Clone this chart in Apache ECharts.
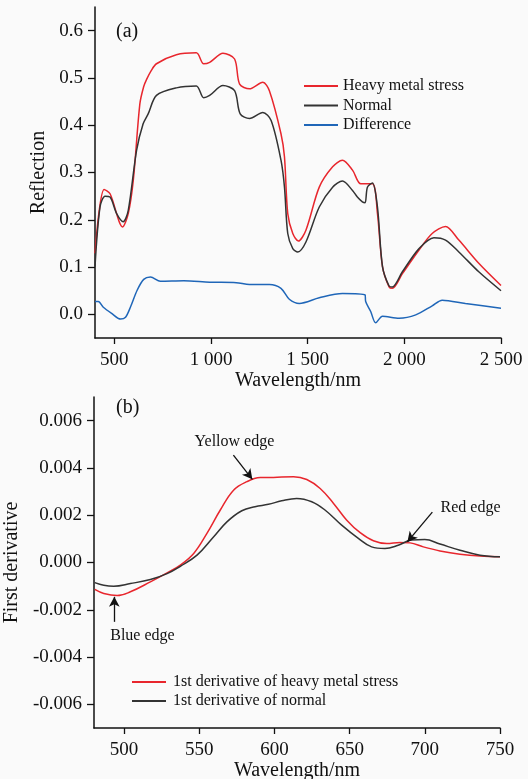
<!DOCTYPE html>
<html>
<head>
<meta charset="utf-8">
<script src="https://cdn.jsdelivr.net/npm/echarts@6/dist/echarts.min.js"></script>
<style>
    html, body { margin: 0; padding: 0; background: #fafafa; }
    #chart { width: 528px; height: 779px; }
</style>
</head>
<body>
<div id="chart"></div>
<script>
// (a) reflectance spectra
var wlHeavy   = [400, 447, 478, 543, 572, 598, 632, 652, 667, 690, 718, 821, 924, 962, 993, 1062, 1122, 1148, 1199, 1268, 1302, 1362, 1380, 1397, 1423, 1452, 1491, 1560, 1629, 1680, 1732, 1775, 1835, 1861, 1887, 1921, 1938, 1990, 2076, 2144, 2213, 2282, 2385, 2500];
var reflHeavy = [0.129, 0.264, 0.255, 0.185, 0.213, 0.283, 0.445, 0.482, 0.497, 0.515, 0.530, 0.549, 0.553, 0.530, 0.533, 0.552, 0.540, 0.487, 0.477, 0.491, 0.473, 0.382, 0.333, 0.213, 0.171, 0.155, 0.178, 0.269, 0.312, 0.326, 0.305, 0.276, 0.276, 0.213, 0.101, 0.058, 0.055, 0.086, 0.136, 0.171, 0.186, 0.157, 0.108, 0.061];

var wlNormal   = [400, 426, 452, 478, 512, 546, 572, 615, 649, 675, 718, 821, 924, 962, 993, 1062, 1122, 1151, 1199, 1268, 1311, 1362, 1380, 1397, 1423, 1449, 1491, 1560, 1629, 1680, 1732, 1757, 1783, 1797, 1809, 1835, 1861, 1887, 1921, 1938, 1990, 2076, 2153, 2213, 2282, 2385, 2500];
var reflNormal = [0.101, 0.227, 0.250, 0.248, 0.213, 0.196, 0.220, 0.347, 0.403, 0.424, 0.463, 0.479, 0.483, 0.458, 0.463, 0.484, 0.473, 0.424, 0.414, 0.427, 0.410, 0.326, 0.269, 0.171, 0.139, 0.132, 0.153, 0.227, 0.269, 0.282, 0.262, 0.248, 0.238, 0.236, 0.269, 0.278, 0.227, 0.101, 0.060, 0.058, 0.090, 0.139, 0.162, 0.157, 0.132, 0.090, 0.050];

var wlDiff   = [400, 417, 443, 486, 532, 558, 584, 618, 652, 687, 738, 859, 993, 1131, 1199, 1302, 1362, 1405, 1457, 1560, 1680, 1797, 1800, 1826, 1852, 1887, 1973, 2059, 2144, 2196, 2316, 2500];
var reflDiff = [0.027, 0.027, 0.015, 0.002, -0.010, -0.006, 0.016, 0.051, 0.074, 0.079, 0.070, 0.071, 0.068, 0.067, 0.063, 0.063, 0.055, 0.032, 0.023, 0.035, 0.044, 0.041, 0.027, 0.006, -0.018, -0.004, -0.008, -0.001, 0.018, 0.030, 0.023, 0.013];

var ticksA_x = [500, 1000, 1500, 2000, 2500];
var ticksA_y = [0, 0.1, 0.2, 0.3, 0.4, 0.5, 0.6];

// (b) first derivative
var wlDerivHeavy = [480.5, 486.5, 495.4, 504.2, 517.5, 528.6, 537.4, 546.3, 555.1, 564, 572.8, 581.7, 590.6, 599.4, 612.7, 621.5, 630.4, 639.3, 648.1, 657, 665.8, 674.7, 683.5, 690.2, 699, 710.1, 723.4, 736.7, 750];
var derivHeavy   = [-0.00114, -0.00131, -0.00140, -0.00124, -0.00082, -0.00044, -0.00011, 0.00038, 0.00123, 0.00222, 0.00306, 0.00342, 0.00359, 0.00360, 0.00363, 0.00351, 0.00313, 0.00250, 0.00179, 0.00126, 0.00092, 0.00080, 0.00085, 0.00083, 0.00066, 0.00049, 0.00035, 0.00027, 0.00024];

var wlDerivNormal = [480.5, 486.5, 493.1, 504.2, 517.5, 528.6, 537.4, 548.5, 559.6, 568.4, 578.3, 587.1, 596, 604.8, 614.8, 624.8, 633.6, 644.7, 655.8, 664.6, 673.5, 682.3, 691.2, 700, 710.1, 723.4, 736.7, 750];
var derivNormal   = [-0.00085, -0.00096, -0.00100, -0.00089, -0.00072, -0.00047, -0.00016, 0.00031, 0.00109, 0.00172, 0.00219, 0.00236, 0.00246, 0.00261, 0.00271, 0.00257, 0.00222, 0.00158, 0.00102, 0.00066, 0.00059, 0.00073, 0.00095, 0.00097, 0.00078, 0.00052, 0.00031, 0.00024];

var ticksB_x = [500, 550, 600, 650, 700, 750];
var ticksB_y = [-0.006, -0.004, -0.002, 0, 0.002, 0.004, 0.006];

// annotations: label, text pos, arrow start, arrow end (data coords)
var edgeNames  = ['Yellow edge', 'Red edge', 'Blue edge'];
var edgeText   = [[573.4, 0.0051], [730.4, 0.00231], [512.2, -0.0031]];
var edgeFrom   = [[572.7, 0.00454], [705, 0.00213], [493.5, -0.00251]];
var edgeTo     = [[585.3, 0.00352], [688.4, 0.00087], [493.5, -0.00145]];

var FONT = 'Liberation Serif';

function zip(xs, ys) {
    var out = [];
    for (var i = 0; i < xs.length; i++) out.push([xs[i], ys[i]]);
    return out;
}

function thousands(v) {
    return String(v).replace(/\B(?=(\d{3})+(?!\d))/g, ' ');
}

function xAxisOpt(idx, min, max, ticks, fmt) {
    return {
        type: 'value', gridIndex: idx, min: min, max: max,
        name: 'Wavelength/nm', nameLocation: 'middle', nameGap: 30,
        nameTextStyle: { fontFamily: FONT, fontSize: 20, color: '#111' },
        axisLine: { show: true, onZero: false, lineStyle: { color: '#111', width: 1.5 } },
        axisTick: { show: true, customValues: ticks, length: 6, lineStyle: { color: '#111', width: 1.3 } },
        axisLabel: { customValues: ticks, formatter: fmt, fontFamily: FONT, fontSize: 19, color: '#111', margin: 13 },
        splitLine: { show: false }
    };
}

function yAxisOpt(idx, name, gap, min, max, ticks, fmt) {
    return {
        type: 'value', gridIndex: idx, min: min, max: max,
        name: name, nameLocation: 'middle', nameGap: gap, nameRotate: 90,
        nameTextStyle: { fontFamily: FONT, fontSize: 20, color: '#111' },
        axisLine: { show: true, lineStyle: { color: '#111', width: 1.5 } },
        axisTick: { show: true, customValues: ticks, length: 7, lineStyle: { color: '#111', width: 1.3 } },
        axisLabel: { customValues: ticks, formatter: fmt, fontFamily: FONT, fontSize: 19, color: '#111', margin: 12 },
        splitLine: { show: false }
    };
}

var arrowLines = [];
var arrowLabels = [];
for (var i = 0; i < edgeNames.length; i++) {
    arrowLines.push([{ coord: edgeFrom[i] }, { coord: edgeTo[i] }]);
    arrowLabels.push({ name: edgeNames[i], coord: edgeText[i] });
}

var chart = echarts.init(document.getElementById('chart'));
chart.setOption({
    backgroundColor: '#fafafa',
    animation: false,
    title: [
        { text: '(a)', left: 116, top: 22, padding: 0, textStyle: { fontFamily: FONT, fontSize: 20, fontWeight: 'normal', color: '#111' } },
        { text: '(b)', left: 116, top: 398, padding: 0, textStyle: { fontFamily: FONT, fontSize: 20, fontWeight: 'normal', color: '#111' } }
    ],
    legend: [
        {
            orient: 'vertical', left: 304, top: 78, padding: 0, icon: 'rect', itemWidth: 34, itemHeight: 2, itemGap: 3.5,
            textStyle: { fontFamily: FONT, fontSize: 16, color: '#111', lineHeight: 16, padding: [0, 0, 0, 0] },
            data: ['Heavy metal stress', 'Normal', 'Difference']
        },
        {
            orient: 'vertical', left: 132, top: 674, padding: 0, icon: 'rect', itemWidth: 34, itemHeight: 2, itemGap: 3,
            textStyle: { fontFamily: FONT, fontSize: 16, color: '#111', lineHeight: 16, padding: [0, 0, 0, 2] },
            data: ['1st derivative of heavy metal stress', '1st derivative of normal']
        }
    ],
    grid: [
        { left: 95, right: 27, top: 7, height: 331, outerBoundsMode: 'none' },
        { left: 94, right: 28, top: 397, height: 331, outerBoundsMode: 'none' }
    ],
    xAxis: [
        xAxisOpt(0, 400, 2500, ticksA_x, function (v) { return thousands(v); }),
        xAxisOpt(1, 480, 750, ticksB_x, function (v) { return String(v); })
    ],
    yAxis: [
        yAxisOpt(0, 'Reflection', 37, -0.05, 0.65, ticksA_y, function (v) { return v.toFixed(1); }),
        yAxisOpt(1, 'First derivative', 62, -0.007, 0.007, ticksB_y, function (v) { return v.toFixed(3); })
    ],
    series: [
        {
            name: 'Heavy metal stress', type: 'line', xAxisIndex: 0, yAxisIndex: 0,
            data: zip(wlHeavy, reflHeavy), showSymbol: false, smooth: 0.3,
            lineStyle: { color: '#e8262d', width: 1.5 }, itemStyle: { color: '#e8262d' }
        },
        {
            name: 'Normal', type: 'line', xAxisIndex: 0, yAxisIndex: 0,
            data: zip(wlNormal, reflNormal), showSymbol: false, smooth: 0.3,
            lineStyle: { color: '#333333', width: 1.5 }, itemStyle: { color: '#333333' }
        },
        {
            name: 'Difference', type: 'line', xAxisIndex: 0, yAxisIndex: 0,
            data: zip(wlDiff, reflDiff), showSymbol: false, smooth: 0.3,
            lineStyle: { color: '#1f66b8', width: 1.5 }, itemStyle: { color: '#1f66b8' }
        },
        {
            name: '1st derivative of heavy metal stress', type: 'line', xAxisIndex: 1, yAxisIndex: 1,
            data: zip(wlDerivHeavy, derivHeavy), showSymbol: false, smooth: 0.4,
            lineStyle: { color: '#e8262d', width: 1.5 }, itemStyle: { color: '#e8262d' },
            markLine: {
                silent: true, symbol: ['none', 'arrow'], symbolSize: [8, 10],
                label: { show: false },
                lineStyle: { color: '#111', width: 1.3, type: 'solid' },
                data: arrowLines
            },
            markPoint: {
                silent: true, symbol: 'circle', symbolSize: 1,
                itemStyle: { color: 'transparent' },
                label: { show: true, position: 'inside', formatter: '{b}', fontFamily: FONT, fontSize: 16, color: '#111' },
                data: arrowLabels
            }
        },
        {
            name: '1st derivative of normal', type: 'line', xAxisIndex: 1, yAxisIndex: 1,
            data: zip(wlDerivNormal, derivNormal), showSymbol: false, smooth: 0.4,
            lineStyle: { color: '#333333', width: 1.5 }, itemStyle: { color: '#333333' }
        }
    ]
});
</script>
</body>
</html>
